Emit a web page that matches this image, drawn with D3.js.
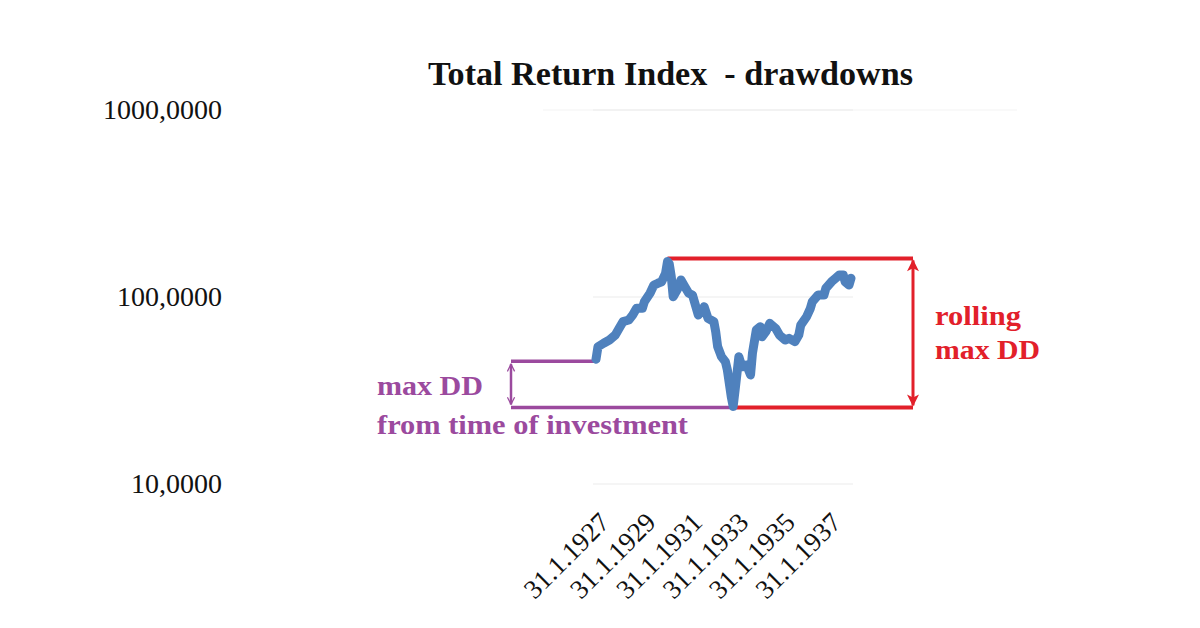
<!DOCTYPE html>
<html>
<head>
<meta charset="utf-8">
<script src="https://cdnjs.cloudflare.com/ajax/libs/d3/7.8.5/d3.min.js"></script>
<style>
body{margin:0;background:#fff;}
text{font-family:"Liberation Serif","Times New Roman",serif;white-space:pre;}
</style>
</head>
<body>
<div class="container"></div>
<script>
const WIDTH = 1200;
const HEIGHT = 628;
const LINE_COLOR = '#4f81bd';
const PURPLE = '#9b4a9e';
const RED = '#e2202a';

// monthly index values
var DATES = ['1927-01','1927-02','1927-05','1927-08','1927-11','1928-01','1928-03','1928-06','1928-08','1928-10',
	'1929-01','1929-02','1929-05','1929-07','1929-09','1929-11','1930-01','1930-02','1930-03','1930-04',
	'1930-05','1930-07','1930-09','1930-11','1931-01','1931-03','1931-06','1931-08','1931-09','1931-11',
	'1932-02','1932-03','1932-04','1932-06','1932-08','1932-09','1932-11','1932-12','1933-01','1933-03',
	'1933-04','1933-05','1933-07','1933-09','1933-10','1933-12','1934-02','1934-03','1934-05','1934-07',
	'1934-10','1934-12','1935-03','1935-05','1935-08','1935-10','1935-11','1936-02','1936-04','1936-05',
	'1936-08','1936-11','1936-12','1937-03','1937-05','1937-07','1937-09','1937-10','1937-12','1938-01'];
var VALUES = [46.5,54.2,56.6,58.9,62.6,68.0,73.8,75.3,80.1,87.0,
	87.0,94.4,104.7,115.9,118.4,120.7,133.9,155,150,128.4,
	100.4,109.0,123.3,113.5,104.7,102.5,80.1,85.2,88.7,76.9,
	73.8,65.3,54.2,47.9,45.1,40.7,29.3,26.0,31.8,47.9,
	44.2,42.4,43.3,38.3,50.0,66.6,69.4,61.3,65.3,72.3,
	68.0,62.6,58.9,60.1,57.7,62.6,70.8,78.4,87.0,94.4,
	102.5,102.5,111.3,120.7,125.9,131.1,131.1,120.7,115.9,125.9];

var Y_TICKS = [10, 100, 1000];
var Y_TICK_LABELS = ['10,0000', '100,0000', '1000,0000'];
var X_TICK_LABELS = ['31.1.1927', '31.1.1929', '31.1.1931', '31.1.1933', '31.1.1935', '31.1.1937'];

var TITLE = 'Total Return Index  - drawdowns';

var parseMonth = d3.timeParse('%Y-%m');
var parseTick = d3.timeParse('%d.%m.%Y');

var translate = function(x, y){
	return 'translate(' + x + ',' + y + ')';
};

var prepare = function(){
	var out = [];
	for(var i = 0; i < DATES.length; i++){
		out.push({'date': parseMonth(DATES[i]), 'value': VALUES[i]});
	}
	return out;
};

// bold annotation text, stretched a bit wider like the original
var note = function(g, x, y, len, color, str){
	g.append('text')
		.attr('x', x).attr('y', y)
		.attr('font-size', 27).attr('font-weight', 'bold')
		.attr('textLength', len)
		.attr('lengthAdjust', 'spacingAndGlyphs')
		.attr('fill', color)
		.text(str);
};

var show = function(){
	var data = prepare();

	var svg = d3.select('.container').append('svg')
		.attr('width', WIDTH)
		.attr('height', HEIGHT);

	var defs = svg.append('defs');
	defs.append('marker')
		.attr('id', 'redHead')
		.attr('viewBox', '0 0 10 10')
		.attr('refX', 9).attr('refY', 5)
		.attr('markerWidth', 4.5).attr('markerHeight', 4)
		.attr('markerUnits', 'strokeWidth')
		.attr('orient', 'auto-start-reverse')
		.append('path')
		.attr('d', 'M0,0 L10,5 L0,10 L2.5,5 Z')
		.attr('fill', RED);
	defs.append('marker')
		.attr('id', 'purpleHead')
		.attr('viewBox', '0 0 10 10')
		.attr('refX', 9).attr('refY', 5)
		.attr('markerWidth', 3.6).attr('markerHeight', 3.6)
		.attr('markerUnits', 'strokeWidth')
		.attr('orient', 'auto-start-reverse')
		.append('path')
		.attr('d', 'M1,1 L9,5 L1,9')
		.attr('fill', 'none')
		.attr('stroke', PURPLE)
		.attr('stroke-width', 1.4);

	var xScale = d3.scaleTime()
		.domain(d3.extent(data, function(d){return d.date;}))
		.range([596, 851]);

	var yScale = d3.scaleLog()
		.domain([10, 1000])
		.range([484, 110]);

	// gridlines
	svg.append('line')
		.attr('x1', 543).attr('x2', 1017)
		.attr('y1', yScale(1000)).attr('y2', yScale(1000))
		.attr('stroke', '#f3f3f3');
	svg.append('g').selectAll('line')
		.data(Y_TICKS)
		.enter().append('line')
		.attr('x1', 593).attr('x2', 853)
		.attr('y1', function(d){return yScale(d)})
		.attr('y2', function(d){return yScale(d)})
		.attr('stroke', '#ebebeb')
		.attr('stroke-width', 1.2);

	// y labels
	svg.append('g').selectAll('text')
		.data(Y_TICKS)
		.enter().append('text')
		.attr('x', 222)
		.attr('y', function(d){return yScale(d) + 9})
		.attr('text-anchor', 'end')
		.attr('font-size', 28)
		.attr('fill', '#111')
		.text(function(d, i){return Y_TICK_LABELS[i]});

	// x labels
	svg.append('g').selectAll('text')
		.data(X_TICK_LABELS)
		.enter().append('text')
		.attr('transform', function(d){
			return translate(xScale(d3.timeMonth.floor(parseTick(d))) + 15, 524) + ' rotate(-45)';
		})
		.attr('text-anchor', 'end')
		.attr('font-size', 27)
		.attr('fill', '#111')
		.text(function(d){return d});

	// title
	svg.append('text')
		.attr('x', 428).attr('y', 85)
		.attr('font-size', 34)
		.attr('font-weight', 'bold')
		.attr('textLength', 485)
		.attr('lengthAdjust', 'spacingAndGlyphs')
		.attr('fill', '#111')
		.text(TITLE);

	var first = data[0];
	var maxPt = data.reduce(function(a, b){return b.value > a.value ? b : a});
	var minPt = data.reduce(function(a, b){return b.value < a.value ? b : a});
	var yStart = yScale(first.value) + 2;
	var yTop = yScale(maxPt.value) - 3;
	var yBottom = yScale(minPt.value) + 1;

	// purple: max DD from time of investment
	var purple = svg.append('g');
	purple.append('line')
		.attr('x1', 511).attr('x2', xScale(first.date))
		.attr('y1', yStart).attr('y2', yStart)
		.attr('stroke', PURPLE).attr('stroke-width', 3.5);
	purple.append('line')
		.attr('x1', 511).attr('x2', xScale(minPt.date))
		.attr('y1', yBottom).attr('y2', yBottom)
		.attr('stroke', PURPLE).attr('stroke-width', 3.5);
	purple.append('line')
		.attr('x1', 511).attr('x2', 511)
		.attr('y1', yStart + 3).attr('y2', yBottom - 3)
		.attr('stroke', PURPLE).attr('stroke-width', 2.5)
		.attr('marker-start', 'url(#purpleHead)')
		.attr('marker-end', 'url(#purpleHead)');
	note(purple, 377, 395, 106, PURPLE, 'max DD');
	note(purple, 377, 434, 311, PURPLE, 'from time of investment');

	// red: rolling max DD
	var red = svg.append('g');
	red.append('line')
		.attr('x1', xScale(maxPt.date)).attr('x2', 913)
		.attr('y1', yTop).attr('y2', yTop)
		.attr('stroke', RED).attr('stroke-width', 4);
	red.append('line')
		.attr('x1', xScale(minPt.date)).attr('x2', 913)
		.attr('y1', yBottom).attr('y2', yBottom)
		.attr('stroke', RED).attr('stroke-width', 4);
	red.append('line')
		.attr('x1', 913).attr('x2', 913)
		.attr('y1', yTop + 2).attr('y2', yBottom - 2)
		.attr('stroke', RED).attr('stroke-width', 3)
		.attr('marker-start', 'url(#redHead)')
		.attr('marker-end', 'url(#redHead)');
	note(red, 935, 325, 86, RED, 'rolling');
	note(red, 935, 359, 105, RED, 'max DD');

	// the index line
	var line = d3.line()
		.x(function(d){return xScale(d.date)})
		.y(function(d){return yScale(d.value)});

	svg.append('path')
		.datum(data)
		.attr('d', line)
		.attr('fill', 'none')
		.attr('stroke', LINE_COLOR)
		.attr('stroke-width', 9)
		.attr('stroke-linejoin', 'round')
		.attr('stroke-linecap', 'round');
};
window.onload = show;
</script>
</body>
</html>
